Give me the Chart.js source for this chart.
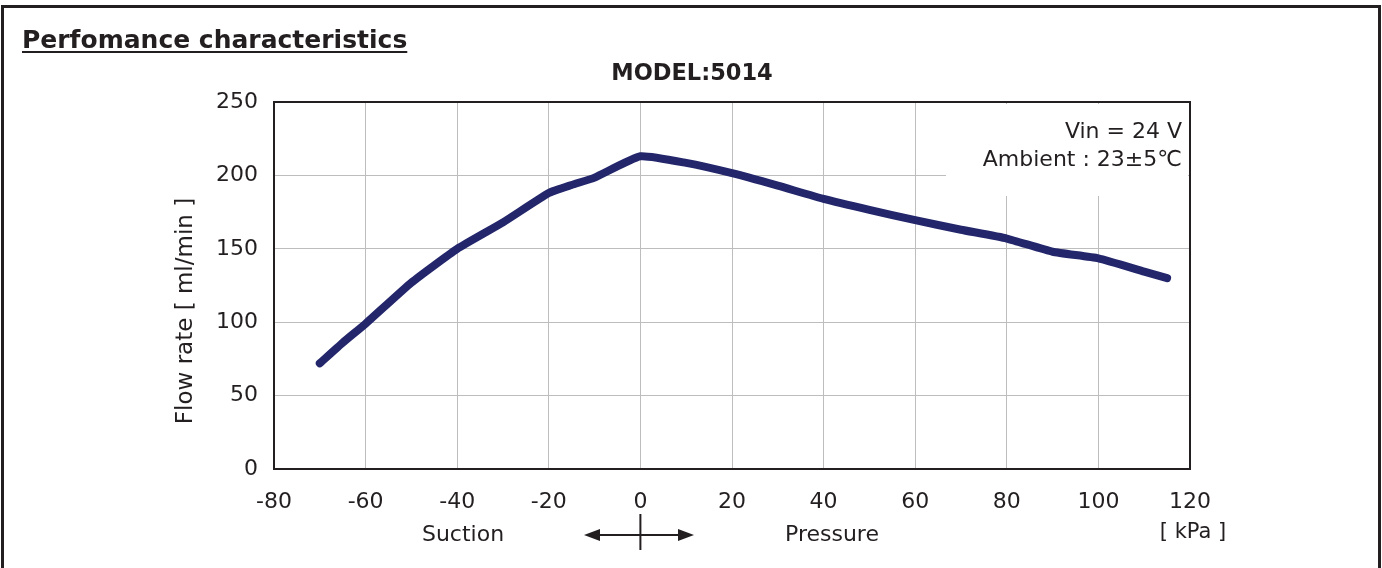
<!DOCTYPE html>
<html>
<head>
<meta charset="utf-8">
<script src="https://cdn.jsdelivr.net/npm/chart.js@4.4.0/dist/chart.umd.min.js"></script>
<style>
  html, body { margin: 0; padding: 0; background: #fff; }
  #wrap { width: 1382px; height: 568px; }
</style>
</head>
<body>
<div id="wrap"><canvas id="myChart" width="1382" height="568"></canvas></div>
<script>
// pressure [kPa] (negative = suction) and flow rate [ml/min]
const pressure = [-70, -65, -60, -50, -40, -30, -20, -15, -10, 0, 10, 20, 30, 40, 50, 60, 70, 80, 90, 100, 110, 115];
const flow = [72, 86, 99, 127, 150, 168, 188, 193.5, 198.5, 213, 208.5, 201.5, 193, 184, 176.5, 169.5, 163, 157, 148, 143.5, 134.5, 130];

const xTicks = [-80, -60, -40, -20, 0, 20, 40, 60, 80, 100, 120];
const yTicks = [0, 50, 100, 150, 200, 250];

const FONT = "'DejaVu Sans', sans-serif";
const INK = '#231f20';

const decor = {
  id: 'decor',
  beforeDatasetsDraw(chart) {
    const c = chart.ctx;
    // white patch behind the conditions note
    c.save();
    c.fillStyle = '#fff';
    c.fillRect(946, 104, 242, 92);
    c.restore();
  },
  afterDraw(chart) {
    const c = chart.ctx;
    const a = chart.chartArea;
    c.save();

    // plot frame
    c.strokeStyle = INK;
    c.lineWidth = 2;
    c.strokeRect(a.left, a.top, a.right - a.left, a.bottom - a.top);

    // page frame (open at the bottom)
    c.lineWidth = 3;
    c.beginPath();
    c.moveTo(2.5, 568);
    c.lineTo(2.5, 6.5);
    c.lineTo(1379.5, 6.5);
    c.lineTo(1379.5, 568);
    c.stroke();

    c.fillStyle = INK;

    // heading, underlined
    c.font = 'bold 25px ' + FONT;
    c.textAlign = 'left';
    c.textBaseline = 'alphabetic';
    c.fillText('Perfomance characteristics', 22, 48);
    const w = c.measureText('Perfomance characteristics').width;
    c.fillRect(22, 51, w, 2);

    // model title
    c.font = 'bold 22.5px ' + FONT;
    c.textAlign = 'center';
    c.textBaseline = 'middle';
    c.fillText('MODEL:5014', 692, 74);

    // conditions note
    c.font = '22px ' + FONT;
    c.textAlign = 'right';
    c.fillText('Vin = 24 V', 1182, 132);
    c.fillText('Ambient : 23±5℃', 1182, 160);

    // y axis title
    c.save();
    c.translate(186, 311);
    c.rotate(-Math.PI / 2);
    c.textAlign = 'center';
    c.font = '23px ' + FONT;
    c.fillText('Flow rate [ ml/min ]', 0, 0);
    c.restore();

    // x axis captions
    c.font = '22px ' + FONT;
    c.textAlign = 'center';
    c.fillText('Suction', 463, 535);
    c.fillText('Pressure', 832, 535);
    c.font = '21px ' + FONT;
    c.fillText('[ kPa ]', 1193, 533);

    // double arrow with zero marker
    const x0 = chart.scales.x.getPixelForValue(0);
    c.lineWidth = 2;
    c.beginPath();
    c.moveTo(598, 535);
    c.lineTo(680, 535);
    c.moveTo(x0, 514);
    c.lineTo(x0, 550);
    c.stroke();
    c.beginPath();
    c.moveTo(584, 535); c.lineTo(600, 529); c.lineTo(600, 541); c.closePath();
    c.moveTo(694, 535); c.lineTo(678, 529); c.lineTo(678, 541); c.closePath();
    c.fill();

    c.restore();
  }
};

new Chart(document.getElementById('myChart'), {
  type: 'line',
  data: {
    datasets: [{
      data: pressure.map((p, i) => ({ x: p, y: flow[i] })),
      borderColor: '#23266b',
      borderWidth: 8,
      borderCapStyle: 'round',
      borderJoinStyle: 'round',
      pointRadius: 0,
      tension: 0.15,
      fill: false
    }]
  },
  options: {
    responsive: false,
    animation: false,
    devicePixelRatio: 1,
    layout: {
      padding: { top: 102, right: 192, left: 0, bottom: 0 }
    },
    plugins: {
      legend: { display: false },
      tooltip: { enabled: false },
      title: { display: false }
    },
    scales: {
      x: {
        type: 'linear',
        min: xTicks[0],
        max: xTicks[xTicks.length - 1],
        afterBuildTicks: s => { s.ticks = xTicks.map(v => ({ value: v })); },
        afterFit: s => { s.height = 99; },
        ticks: {
          color: INK,
          padding: 20,
          maxRotation: 0,
          font: { family: FONT, size: 22 }
        },
        grid: { color: '#bdbdbd', lineWidth: 1, drawTicks: false },
        border: { display: false }
      },
      y: {
        min: yTicks[0],
        max: yTicks[yTicks.length - 1],
        afterBuildTicks: s => { s.ticks = yTicks.map(v => ({ value: v })); },
        afterFit: s => { s.width = 274; },
        ticks: {
          color: INK,
          padding: 16,
          font: { family: FONT, size: 22 }
        },
        grid: { color: '#bdbdbd', lineWidth: 1, drawTicks: false },
        border: { display: false }
      }
    }
  },
  plugins: [decor]
});
</script>
</body>
</html>
